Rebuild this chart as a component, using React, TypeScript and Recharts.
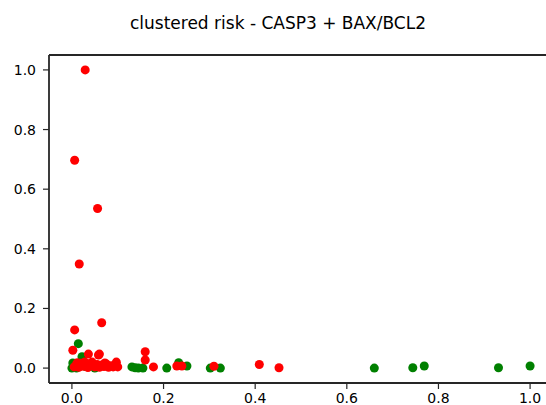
import React from "react";
import {
  ScatterChart,
  Scatter,
  XAxis,
  YAxis,
  ZAxis,
} from "recharts";

// Cluster 0 (green) and cluster 1 (red).
const greenX = [
  0.0, 0.002, 0.014, 0.022, 0.01, 0.03, 0.05, 0.131, 0.138, 0.145, 0.155,
  0.207, 0.233, 0.251, 0.302, 0.324, 0.66, 0.744, 0.769, 0.931, 1.0,
];
const greenY = [
  0.0, 0.017, 0.082, 0.038, 0.0, 0.005, 0.0, 0.004, 0.001, 0.0, 0.0,
  0.0, 0.018, 0.007, 0.0, 0.0, 0.0, 0.001, 0.007, 0.001, 0.007,
];

const redX = [
  0.029, 0.006, 0.056, 0.016, 0.065, 0.006, 0.002, 0.036, 0.06, 0.058,
  0.005, 0.01, 0.015, 0.02, 0.025, 0.03, 0.035, 0.04, 0.045, 0.05,
  0.055, 0.06, 0.065, 0.07, 0.075, 0.08, 0.085, 0.09, 0.095, 0.1,
  0.097, 0.012, 0.028, 0.044, 0.072,
  0.16, 0.16, 0.178, 0.229, 0.24, 0.31, 0.409, 0.452,
];
const redY = [
  1.0, 0.697, 0.535, 0.349, 0.152, 0.128, 0.06, 0.047, 0.047, 0.044,
  0.004, 0.012, 0.003, 0.016, 0.006, 0.013, 0.002, 0.015, 0.008, 0.004,
  0.012, 0.003, 0.01, 0.005, 0.014, 0.003, 0.008, 0.004, 0.012, 0.004,
  0.02, 0.018, 0.02, 0.02, 0.017,
  0.055, 0.027, 0.004, 0.007, 0.007, 0.006, 0.012, 0.001,
];

const axisTicks = [0, 0.2, 0.4, 0.6, 0.8, 1.0];

const greenPoints = greenX.map((x, i) => ({ x, y: greenY[i] }));
const redPoints = redX.map((x, i) => ({ x, y: redY[i] }));

const FONT = "'DejaVu Sans', sans-serif";
const SPINE = "#262626";
const tickStyle = { fill: "#000", fontSize: 14, fontFamily: FONT };

export default function App() {
  return (
    <div
      style={{
        position: "absolute",
        left: 0,
        top: 0,
        width: 546,
        height: 405,
        overflow: "hidden",
        background: "#fff",
      }}
    >
      <svg
        width={546}
        height={40}
        style={{ position: "absolute", left: 0, top: 0 }}
      >
        <text
          x={278}
          y={29}
          textAnchor="middle"
          fontFamily={FONT}
          fontSize={17}
          fill="#000"
        >
          clustered risk - CASP3 + BAX/BCL2
        </text>
      </svg>
      <ScatterChart
        width={560}
        height={405}
        accessibilityLayer={false}
        margin={{ top: 54, right: 7, bottom: 0, left: 9 }}
      >
        <XAxis
          xAxisId="top"
          orientation="top"
          type="number"
          dataKey="x"
          domain={[-0.05, 1.05]}
          ticks={axisTicks}
          allowDataOverflow
          height={1}
          tick={false}
          tickLine={false}
          axisLine={{ stroke: SPINE, strokeWidth: 1.8 }}
        />
        <XAxis
          type="number"
          dataKey="x"
          domain={[-0.05, 1.05]}
          ticks={axisTicks}
          allowDataOverflow
          height={22}
          tickSize={6}
          tickMargin={4}
          tickFormatter={(v: number) => v.toFixed(1)}
          tick={tickStyle}
          axisLine={{ stroke: SPINE, strokeWidth: 1.8 }}
          tickLine={{ stroke: SPINE, strokeWidth: 1.2 }}
        />
        <YAxis
          type="number"
          dataKey="y"
          domain={[-0.05, 1.05]}
          ticks={axisTicks}
          allowDataOverflow
          width={40}
          tickSize={6}
          tickMargin={7}
          tickFormatter={(v: number) => v.toFixed(1)}
          tick={tickStyle}
          axisLine={{ stroke: SPINE, strokeWidth: 1.8 }}
          tickLine={{ stroke: SPINE, strokeWidth: 1.2 }}
        />
        <ZAxis range={[100, 100]} />
        <Scatter
          data={greenPoints}
          fill="#008000"
          isAnimationActive={false}
        />
        <Scatter data={redPoints} fill="#ff0000" isAnimationActive={false} />
      </ScatterChart>
    </div>
  );
}
